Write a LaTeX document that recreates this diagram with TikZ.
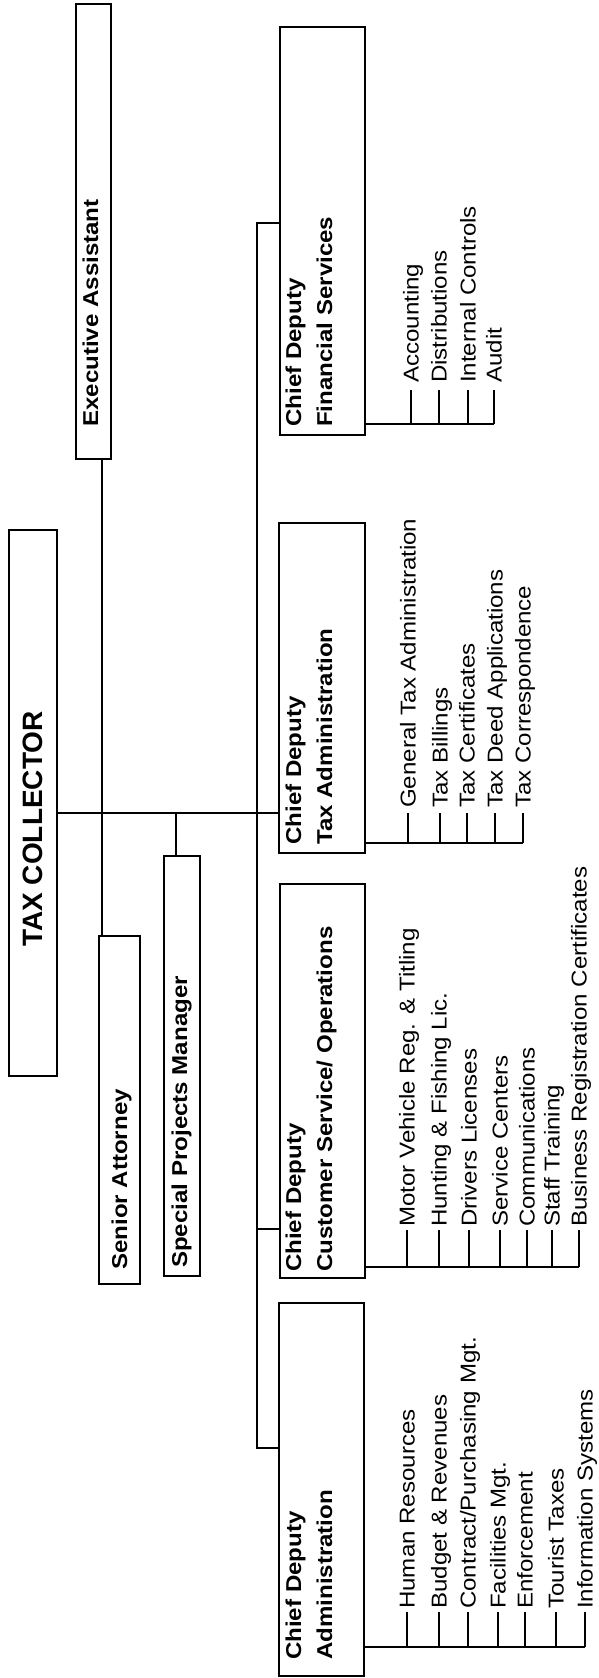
\documentclass[tikz,border=0pt]{standalone}
\usepackage{fontspec}
\setmainfont{Liberation Sans}
\newfontfamily\labfont{Liberation Sans}[FakeStretch=1.12]
\begin{document}
\begin{tikzpicture}[x=1pt,y=1pt,
  box/.style={draw, line width=1.6pt, inner sep=0pt, anchor=north west},
  ln/.style={line width=1.6pt},
  hd/.style={font=\labfont\bfseries\fontsize{21.5}{24}\selectfont, inner sep=0pt, anchor=base west},
  lbl/.style={font=\labfont\fontsize{21.5}{24}\selectfont, inner sep=0pt, anchor=west, text height=15.4pt, text depth=0pt}]
\useasboundingbox[fill=white] (0,0) rectangle (599,1678);
\begin{scope}[rotate=90, transform shape]
% boxes
\node[box, minimum width=546pt, minimum height=48pt] (tc) at (601,-8) {};
\node[box, minimum width=455pt, minimum height=35pt] (ea) at (1218,-75) {};
\node[box, minimum width=348pt, minimum height=41pt] (sa) at (393,-98) {};
\node[box, minimum width=420pt, minimum height=36pt] (spm) at (401,-163) {};
\node[box, minimum width=373pt, minimum height=85pt] (adm) at (1,-278) {};
\node[box, minimum width=394pt, minimum height=85pt] (cs) at (399,-279) {};
\node[box, minimum width=330pt, minimum height=86pt] (tax) at (824,-278) {};
\node[box, minimum width=408pt, minimum height=85pt] (fs) at (1242,-279) {};
% box texts
\node[font=\bfseries\fontsize{28}{30}\selectfont, inner sep=0pt, anchor=base] (tct) at (849,-42) {TAX COLLECTOR};
\node[hd] (eat) at (1251,-98) {Executive Assistant};
\node[hd] (sat) at (408,-127) {Senior Attorney};
\node[hd] (spmt) at (410,-187) {Special Projects Manager};
\node[hd] (adm1) at (18,-301) {Chief Deputy};
\node[hd] (adm2) at (18,-332) {Administration};
\node[hd] (cs1) at (406,-301) {Chief Deputy};
\node[hd] (cs2) at (406,-332) {Customer Service/ Operations};
\node[hd] (tax1) at (833,-301) {Chief Deputy};
\node[hd] (tax2) at (833,-332) {Tax Administration};
\node[hd] (fs1) at (1251,-301) {Chief Deputy};
\node[hd] (fs2) at (1251,-332) {Financial Services};
% connector coordinates
\coordinate (tk) at (865,0);
\coordinate (easa) at (0,-102);
\coordinate (spmy) at (0,-176);
\coordinate (b1) at (230,-257);
\coordinate (b2) at (449,-257);
\coordinate (b3) at (1455,-257);
% main connectors
\draw[ln] (tk |- tc.south) -- (tk |- tax.north);
\draw[ln] (sa.east |- easa) -- (ea.west |- easa);
\draw[ln] (tk |- spmy) -- (spm.east |- spmy);
\draw[ln] (b1 |- adm.north) -- (b1) -- (b3) -- (b3 |- fs.north);
\draw[ln] (b2) -- (b2 |- cs.north);
% Financial Services units
\coordinate (fsx) at (1254,0);
\node[lbl] (f1) at (1295,-411) {Accounting};
\node[lbl] (f2) at (1295,-439) {Distributions};
\node[lbl] (f3) at (1295,-468) {Internal Controls};
\node[lbl] (f4) at (1295,-494) {Audit};
\draw[ln] (fsx |- fs.south) -- (fsx |- f4.west);
\foreach \n in {f1,f2,f3,f4} \draw[ln] (fsx |- \n.west) -- ++(34,0);
% Tax Administration units
\coordinate (txx) at (835,0);
\node[lbl] (t1) at (870,-408) {General Tax Administration};
\node[lbl] (t2) at (870,-440) {Tax Billings};
\node[lbl] (t3) at (870,-467) {Tax Certificates};
\node[lbl] (t4) at (870,-495) {Tax Deed Applications};
\node[lbl] (t5) at (870,-523) {Tax Correspondence};
\draw[ln] (txx |- tax.south) -- (txx |- t5.west);
\foreach \n in {t1,t2,t3,t4,t5} \draw[ln] (txx |- \n.west) -- ++(30,0);
% Customer Service units
\coordinate (csx) at (411,0);
\node[lbl] (c1) at (451,-407) {Motor Vehicle Reg. \& Titling};
\node[lbl] (c2) at (451,-439) {Hunting \& Fishing Lic.};
\node[lbl] (c3) at (451,-469) {Drivers Licenses};
\node[lbl] (c4) at (451,-500) {Service Centers};
\node[lbl] (c5) at (451,-527) {Communications};
\node[lbl] (c6) at (451,-552) {Staff Training};
\node[lbl] (c7) at (451,-579) {Business Registration Certificates};
\draw[ln] (csx |- cs.south) -- (csx |- c7.west);
\foreach \n in {c1,c2,c3,c4,c5,c6,c7} \draw[ln] (csx |- \n.west) -- ++(37,0);
% Administration units
\coordinate (adx) at (31,0);
\node[lbl] (a1) at (69,-407) {Human Resources};
\node[lbl] (a2) at (69,-439) {Budget \& Revenues};
\node[lbl] (a3) at (69,-468) {Contract/Purchasing Mgt.};
\node[lbl] (a4) at (69,-498) {Facilities Mgt.};
\node[lbl] (a5) at (69,-525) {Enforcement};
\node[lbl] (a6) at (69,-556) {Tourist Taxes};
\node[lbl] (a7) at (69,-585) {Information Systems};
\draw[ln] (adx |- adm.south) -- (adx |- a7.west);
\foreach \n in {a1,a2,a3,a4,a5,a6,a7} \draw[ln] (adx |- \n.west) -- ++(35,0);
\end{scope}
\end{tikzpicture}
\end{document}
